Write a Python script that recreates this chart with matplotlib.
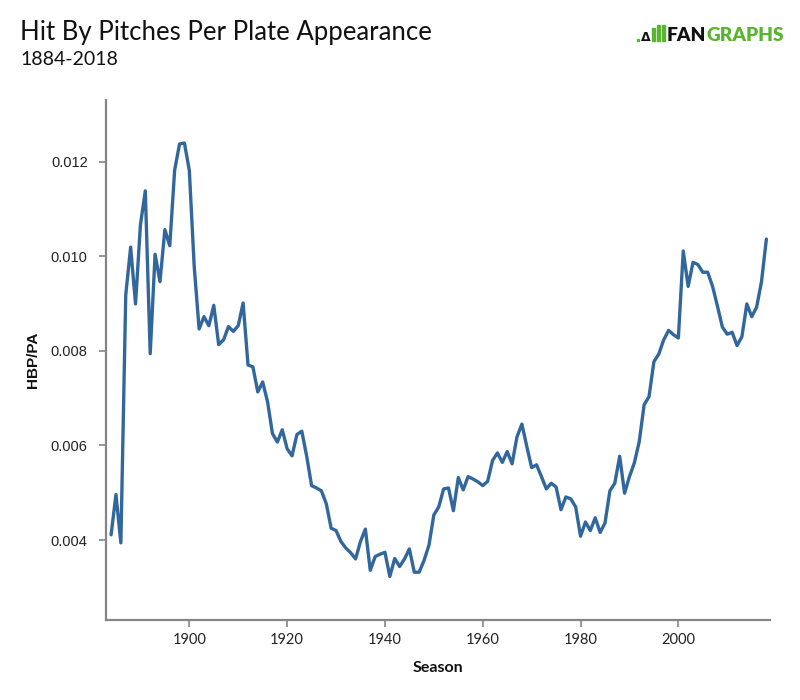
import matplotlib
matplotlib.use("Agg")
import matplotlib.pyplot as plt
from matplotlib.patches import Rectangle

years = list(range(1884, 2019))
hbp_pa = [
    # 1884-1910
    0.00411, 0.00496, 0.00394, 0.00918, 0.01019, 0.00899, 0.01066, 0.01138, 0.00794, 0.01004,
    0.00946, 0.01056, 0.01022, 0.01182, 0.01237, 0.01239, 0.01181, 0.00978, 0.00846, 0.00872,
    0.00853, 0.00896, 0.00813, 0.00823, 0.00851, 0.00841, 0.00853,
    # 1911-1936
    0.00901, 0.00770, 0.00766, 0.00713, 0.00734, 0.00692, 0.00625, 0.00607, 0.00633, 0.00593,
    0.00578, 0.00623, 0.00630, 0.00577, 0.00515, 0.00510, 0.00504, 0.00477, 0.00425, 0.00420,
    0.00397, 0.00383, 0.00373, 0.00360, 0.00397, 0.00423,
    # 1937-1974
    0.00336, 0.00365, 0.00370, 0.00374, 0.00323, 0.00361, 0.00344, 0.00360, 0.00381, 0.00332,
    0.00332, 0.00357, 0.00389, 0.00453, 0.00470, 0.00508, 0.00510, 0.00462, 0.00532, 0.00506,
    0.00534, 0.00529, 0.00523, 0.00515, 0.00524, 0.00568, 0.00584, 0.00564, 0.00587, 0.00561,
    0.00618, 0.00645, 0.00598, 0.00553, 0.00559, 0.00534, 0.00508, 0.00520,
    # 1975-2018
    0.00512, 0.00464, 0.00491, 0.00487, 0.00470, 0.00408, 0.00438, 0.00420, 0.00447, 0.00416,
    0.00436, 0.00504, 0.00520, 0.00577, 0.00499, 0.00534, 0.00563, 0.00608, 0.00686, 0.00703,
    0.00777, 0.00793, 0.00823, 0.00843, 0.00834, 0.00827, 0.01011, 0.00936, 0.00987, 0.00982,
    0.00966, 0.00966, 0.00936, 0.00894, 0.00850, 0.00835, 0.00839, 0.00811, 0.00830, 0.00899,
    0.00872, 0.00892, 0.00946, 0.01036,
]

x_ticks = [1900, 1920, 1940, 1960, 1980, 2000]
y_ticks = [0.004, 0.006, 0.008, 0.010, 0.012]
y_tick_labels = ["0.004", "0.006", "0.008", "0.010", "0.012"]

title = "Hit By Pitches Per Plate Appearance"
subtitle = "1884-2018"

W, H = 800, 700
fig = plt.figure(figsize=(8, 7), dpi=100)
ax = fig.add_axes([105.7 / W, 1 - 619.5 / H, (770.3 - 105.7) / W, (619.5 - 100) / H])

ax.plot(years, hbp_pa, color="#31679c", lw=2.4, solid_joinstyle="round", solid_capstyle="round")
ax.set_xlim(1882.9, 2018.8)
ax.set_ylim(0.00232, 0.0133)

spine_c = "#858585"
for s in ["top", "right"]:
    ax.spines[s].set_visible(False)
for s in ["left", "bottom"]:
    ax.spines[s].set_color(spine_c)
    ax.spines[s].set_linewidth(1.6)

ax.set_xticks(x_ticks)
ax.set_xticklabels([str(t) for t in x_ticks], fontfamily="Lato", fontsize=10.5, color="#222222")
ax.set_yticks(y_ticks)
ax.set_yticklabels(y_tick_labels, fontfamily="Liberation Sans", fontsize=10.5, color="#222222")
ax.tick_params(axis="both", direction="out", length=5, width=1.2, color=spine_c)
ax.tick_params(axis="x", pad=5)
ax.tick_params(axis="y", pad=8)

ax.set_xlabel("Season", fontfamily="Lato", fontweight="bold", fontsize=11.5, labelpad=10, color="#111111")
ax.set_ylabel("HBP/PA", fontfamily="Liberation Sans", fontweight="bold", fontsize=11, labelpad=8, color="#111111")

fig.text(20 / W, 1 - 40 / H, title, fontfamily="Lato", fontsize=18.5, color="#111111", ha="left", va="baseline")
fig.text(20 / W, 1 - 65 / H, subtitle, fontfamily="Lato", fontsize=14, color="#111111", ha="left", va="baseline")

# FanGraphs logo
green = "#5ab431"
fig.patches.append(Rectangle((637 / W, 1 - 41 / H), 2 / W, 2 / H, transform=fig.transFigure, color=green))
fig.patches.append(Rectangle((652 / W, 1 - 41 / H), 2.5 / W, 13 / H, transform=fig.transFigure, color=green))
fig.patches.append(Rectangle((657 / W, 1 - 41 / H), 2.5 / W, 16 / H, transform=fig.transFigure, color=green))
fig.patches.append(Rectangle((662 / W, 1 - 41 / H), 2.5 / W, 16 / H, transform=fig.transFigure, color=green))
fig.text(641 / W, 1 - 41 / H, "\u0394", fontfamily="DejaVu Sans", fontsize=9, fontweight="bold", color="#111111", ha="left", va="baseline")
t1 = fig.text(667 / W, 1 - 41 / H, "FAN", fontfamily="Lato", fontweight="heavy", fontsize=13.8, color="#111111", ha="left", va="baseline")
fig.canvas.draw()
bb = t1.get_window_extent()
fig.text(bb.x1 / W, 1 - 41 / H, "GRAPHS", fontfamily="Lato", fontweight="heavy", fontsize=13.8, color=green, ha="left", va="baseline")

fig.savefig("out.png", dpi=100, facecolor="white")
